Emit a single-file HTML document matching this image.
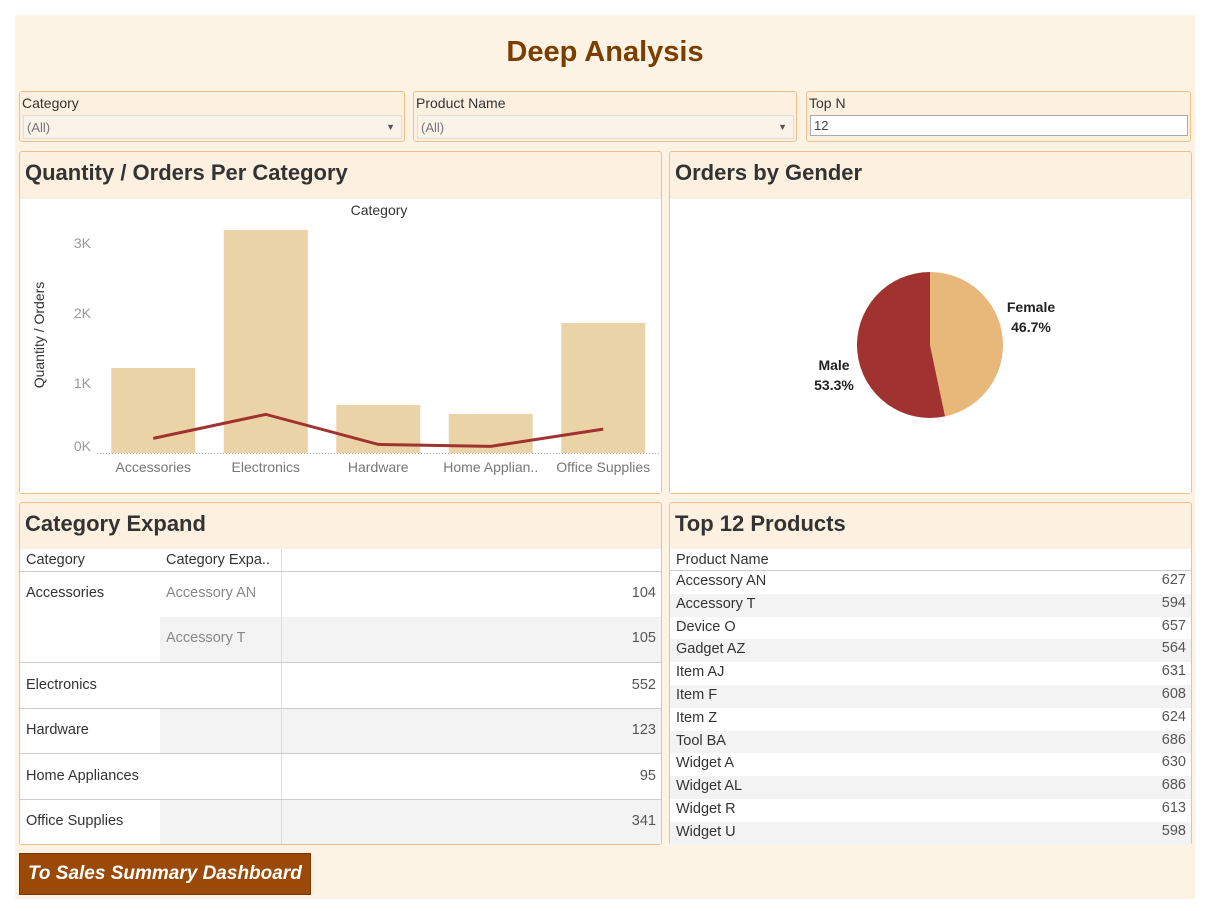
<!DOCTYPE html>
<html><head><meta charset="utf-8"><style>
*{box-sizing:border-box;margin:0;padding:0}
body{width:1205px;height:911px;background:#fff;font-family:"Liberation Sans","DejaVu Sans",sans-serif;position:relative;overflow:hidden;color:#333}
.abs{position:absolute}
.bg{left:15px;top:15px;width:1180px;height:884px;background:#fcf3e4}
.panel{position:absolute;background:#fcf1e0;border:1px solid #f0c088;border-radius:3px}
.ptitle{position:absolute;left:5px;top:8px;font-size:22px;font-weight:bold;color:#333}
.white{position:absolute;background:#fff}
.flab{position:absolute;left:2px;top:3px;font-size:14px;color:#333}
.sel{position:absolute;left:3px;top:23px;height:24px;border:1px solid #ddd;background:#f9f3ea;font-size:13px;color:#777;padding:4px 3px}
.arr{position:absolute;right:6px;top:6px;font-size:9px;color:#555}
.row{position:absolute;left:0;width:100%;font-size:14.5px;color:#333}
.num{position:absolute;right:5px;color:#555}
</style></head><body>
<div class="abs bg"></div>
<div class="abs" style="left:0;width:1210px;top:36px;text-align:center;font-size:29px;font-weight:bold;color:#7a3e00">Deep Analysis</div>

<div class="panel" style="left:19px;top:91px;width:386px;height:51px"><div class="flab">Category</div><div class="sel" style="width:379px">(All)<span class="arr">▼</span></div></div>
<div class="panel" style="left:413px;top:91px;width:384px;height:51px"><div class="flab">Product Name</div><div class="sel" style="width:377px">(All)<span class="arr">▼</span></div></div>
<div class="panel" style="left:806px;top:91px;width:385px;height:51px"><div class="flab">Top N</div><div class="sel" style="width:378px;background:#fff;border-color:#aaa;color:#444;height:21px;padding:2px 3px">12</div></div>

<div class="panel" style="left:19px;top:151px;width:643px;height:343px">
<div class="ptitle">Quantity / Orders Per Category</div>
<div class="white" style="left:0;top:47px;width:641px;height:294px"></div></div>
<svg id="chart" class="abs" style="left:0;top:0" width="1205" height="911"></svg>

<div class="panel" style="left:669px;top:151px;width:523px;height:343px">
<div class="ptitle">Orders by Gender</div>
<div class="white" style="left:0;top:47px;width:521px;height:294px"></div></div>
<svg id="pie" class="abs" style="left:0;top:0" width="1205" height="911"></svg>

<div class="panel" style="left:19px;top:502px;width:643px;height:343px">
<div class="ptitle">Category Expand</div>
<div class="white" style="left:0;top:46px;width:641px;height:295px">
 <div class="abs" style="left:140px;top:68px;width:501px;height:45px;background:#f3f3f3"></div>
 <div class="abs" style="left:140px;top:159px;width:501px;height:46px;background:#f3f3f3"></div>
 <div class="abs" style="left:140px;top:250px;width:501px;height:45px;background:#f3f3f3"></div>
 <div class="abs" style="left:261px;top:0;width:1px;height:295px;background:#ddd"></div>
 <div class="abs" style="left:0;top:22px;width:641px;height:1px;background:#ccc"></div>
 <div class="abs" style="left:0;top:113px;width:641px;height:1px;background:#ccc"></div>
 <div class="abs" style="left:0;top:159px;width:641px;height:1px;background:#ccc"></div>
 <div class="abs" style="left:0;top:204px;width:641px;height:1px;background:#ccc"></div>
 <div class="abs" style="left:0;top:250px;width:641px;height:1px;background:#ccc"></div>
 <div class="row" style="top:3px"><span class="abs" style="left:6px">Category</span><span class="abs" style="left:146px">Category Expa..</span></div>
 <div class="row" style="top:36px"><span class="abs" style="left:6px">Accessories</span><span class="abs" style="left:146px;color:#888">Accessory AN</span><span class="num">104</span></div>
 <div class="row" style="top:81px"><span class="abs" style="left:146px;color:#888">Accessory T</span><span class="num">105</span></div>
 <div class="row" style="top:128px"><span class="abs" style="left:6px">Electronics</span><span class="num">552</span></div>
 <div class="row" style="top:173px"><span class="abs" style="left:6px">Hardware</span><span class="num">123</span></div>
 <div class="row" style="top:219px"><span class="abs" style="left:6px">Home Appliances</span><span class="num">95</span></div>
 <div class="row" style="top:264px"><span class="abs" style="left:6px">Office Supplies</span><span class="num">341</span></div>
</div></div>

<div class="panel" style="left:669px;top:502px;width:523px;height:343px">
<div class="ptitle">Top 12 Products</div>
<div class="white" id="topTable" style="left:0;top:46px;width:521px;height:295px">
 <div class="abs" style="left:0;top:21px;width:521px;height:1px;background:#ccc"></div>
 <div class="row" style="top:3px"><span class="abs" style="left:6px">Product Name</span></div>
</div></div>

<div class="abs" style="left:19px;top:853px;width:292px;height:42px;background:#9a4a06;border:1px solid #7a3800;color:#fff;font-weight:bold;font-style:italic;font-size:19px;padding:9px 8px">To Sales Summary Dashboard</div>

<script>
const categories=["Accessories","Electronics","Hardware","Home Applian..","Office Supplies"];
const quantity=[1215,3186,686,557,1857];
const orders=[209,552,123,95,341];
const yTicks=[0,1000,2000,3000];
const yTickLabels=["0K","1K","2K","3K"];
const genders=["Female","Male"];
const genderPct=[46.7,53.3];
const products=["Accessory AN","Accessory T","Device O","Gadget AZ","Item AJ","Item F","Item Z","Tool BA","Widget A","Widget AL","Widget R","Widget U"];
const productValues=[627,594,657,564,631,608,624,686,630,686,613,598];

const NS="http://www.w3.org/2000/svg";
function mk(parent,tag,attrs,text){const e=document.createElementNS(NS,tag);for(const k in attrs)e.setAttribute(k,attrs[k]);if(text!==undefined)e.textContent=text;parent.appendChild(e);return e;}
const svg=document.getElementById('chart');
const x0=97,band=112.5,base=453,kpx=70/1000;
const xc=i=>x0+band*(i+0.5);
const y=v=>base-v*kpx;
let t=mk(svg,'text',{x:379,y:215,'font-size':14,'text-anchor':'middle',fill:'#333','font-family':'Liberation Sans'},'Category');


t=mk(svg,'text',{x:0,y:0,'font-size':14,'text-anchor':'middle',fill:'#333',transform:'translate(44,335) rotate(-90)'},'Quantity / Orders');


yTicks.forEach((v,i)=>{const e=mk(svg,'text',{x:91,y:Math.min(y(v),446)+5,'font-size':14,'text-anchor':'end',fill:'#999'},yTickLabels[i]);

});
quantity.forEach((v,i)=>{const r=mk(svg,'rect',{x:xc(i)-42,y:y(v),width:84,height:v*kpx,fill:'#ebd3a8'});


const l=mk(svg,'text',{x:xc(i),y:472,'font-size':14,'text-anchor':'middle',fill:'#777'},categories[i]);

});
const ax=mk(svg,'line',{x1:x0,x2:660,y1:base+0.5,y2:base+0.5,stroke:'#aaa','stroke-dasharray':'1,2'});


const pl=mk(svg,'polyline',{points:orders.map((v,i)=>xc(i)+','+y(v)).join(' '),fill:'none',stroke:'#a0322f','stroke-width':3});



const pie=document.getElementById('pie');
const cx=930,cy=345,R=73,cols=['#e8b87a','#a0322f'];
let ang=0;
genderPct.forEach((p,i)=>{const a1=ang+p/100*2*Math.PI;
const px=a=>cx+R*Math.sin(a),py=a=>cy-R*Math.cos(a);
const d=`M${cx},${cy}L${px(ang)},${py(ang)}A${R},${R} 0 ${a1-ang>Math.PI?1:0} 1 ${px(a1)},${py(a1)}Z`;
const s=mk(pie,'path',{d:d,fill:cols[i]});


ang=a1;});
let g=mk(pie,'text',{x:1031,y:312,'font-size':14,'font-weight':'bold','text-anchor':'middle',fill:'#222'},genders[0]);


g=mk(pie,'text',{x:1031,y:332,'font-size':14,'font-weight':'bold','text-anchor':'middle',fill:'#222'},genderPct[0]+'%');


g=mk(pie,'text',{x:834,y:370,'font-size':14,'font-weight':'bold','text-anchor':'middle',fill:'#222'},genders[1]);


g=mk(pie,'text',{x:834,y:390,'font-size':14,'font-weight':'bold','text-anchor':'middle',fill:'#222'},genderPct[1]+'%');



const topTbl=document.getElementById('topTable');
products.forEach((p,i)=>{const r=document.createElement('div');r.className='row';


r.style.top=(22+i*22.8)+'px';r.style.height='22.8px';if(i%2)r.style.background='#f3f3f3';
r.innerHTML='<span class="abs" style="left:6px;top:2px">'+p+'</span><span class="num" style="top:1px">'+productValues[i]+'</span>';topTbl.appendChild(r);});
</script>
</body></html>
